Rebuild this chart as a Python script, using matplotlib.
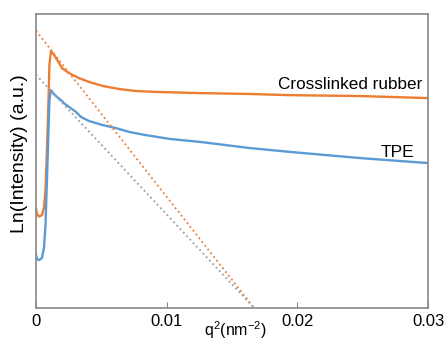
import matplotlib
matplotlib.use('Agg')
import matplotlib.pyplot as plt

plt.rcParams['font.family'] = ['Liberation Sans', 'DejaVu Sans']
plt.rcParams['mathtext.fontset'] = 'custom'
plt.rcParams['mathtext.rm'] = 'Liberation Sans'
plt.rcParams['mathtext.it'] = 'Liberation Sans:italic'

# Datos (q^2 en nm^-2, Ln(I) en unidades arbitrarias)
rubber_q2 = [0, 0.0000765, 0.00023, 0.00046, 0.00061, 0.00073, 0.00084, 0.00096,
             0.00103, 0.00115, 0.00138, 0.00168, 0.00199, 0.00253, 0.00329, 0.00406,
             0.00513, 0.00635, 0.00765, 0.00918, 0.01255, 0.01638, 0.01944, 0.0248, 0.03]
rubber_ln = [0.340, 0.320, 0.311, 0.316, 0.340, 0.401, 0.537, 0.707,
             0.827, 0.874, 0.861, 0.840, 0.816, 0.799, 0.782, 0.769,
             0.755, 0.745, 0.738, 0.735, 0.731, 0.728, 0.724, 0.721, 0.714]

tpe_q2 = [0, 0.0000765, 0.00023, 0.00046, 0.00061, 0.00073, 0.00084, 0.00096,
          0.00103, 0.00115, 0.00145, 0.00191, 0.00222, 0.00253, 0.00306, 0.00344,
          0.00406, 0.00513, 0.00612, 0.00712, 0.00842, 0.01025, 0.01255, 0.01638,
          0.01944, 0.0248, 0.03]
tpe_ln = [0.180, 0.167, 0.163, 0.170, 0.204, 0.282, 0.435, 0.605,
          0.707, 0.741, 0.724, 0.707, 0.694, 0.684, 0.667, 0.650,
          0.636, 0.622, 0.612, 0.599, 0.588, 0.575, 0.565, 0.544,
          0.531, 0.510, 0.493]

# Ajustes lineales (Guinier)
fit_q2 = [0, 0.0167]
rubber_fit = [0.943, 0.0]
tpe_fit = [0.793, 0.0]

orange = '#ED7D31'
blue = '#5B9BD5'

fig = plt.figure(figsize=(4.44, 3.42), dpi=100)
ax = fig.add_axes([0.081, 0.0994, 0.883, 0.8596])

ax.plot(rubber_q2, rubber_ln, color=orange, lw=1.7, zorder=2)
ax.plot(tpe_q2, tpe_ln, color=blue, lw=1.7, zorder=2)
ax.plot(fit_q2, rubber_fit, linestyle=':', color=orange, lw=1.3, zorder=3)
ax.plot(fit_q2, tpe_fit, linestyle=':', color='#9a9ea6', lw=1.3, zorder=3)

ax.set_xlim(0, 0.03)
ax.set_ylim(0, 1)
ax.set_xticks([0, 0.01, 0.02, 0.03])
ax.set_xticklabels(['0', '0.01', '0.02', '0.03'])
ax.set_yticks([])
ax.tick_params(axis='x', direction='in', length=4, color='#888888', labelsize=12, pad=4)

for s in ax.spines.values():
    s.set_color('#888888')
    s.set_linewidth(1.2)

ax.set_xlabel('q$^{2}$(nm$^{-2}$)', fontsize=11.5)
ax.xaxis.set_label_coords(0.51, -0.038)
ax.set_ylabel('Ln(Intensity) (a.u.)', fontsize=14)
ax.yaxis.set_label_coords(-0.02, 0.524)

ax.text(0.02954, 0.745, 'Crosslinked rubber', ha='right', va='baseline', fontsize=12.3)
ax.text(0.02893, 0.514, 'TPE', ha='right', va='baseline', fontsize=12.5)

fig.savefig('out.png', dpi=100)
